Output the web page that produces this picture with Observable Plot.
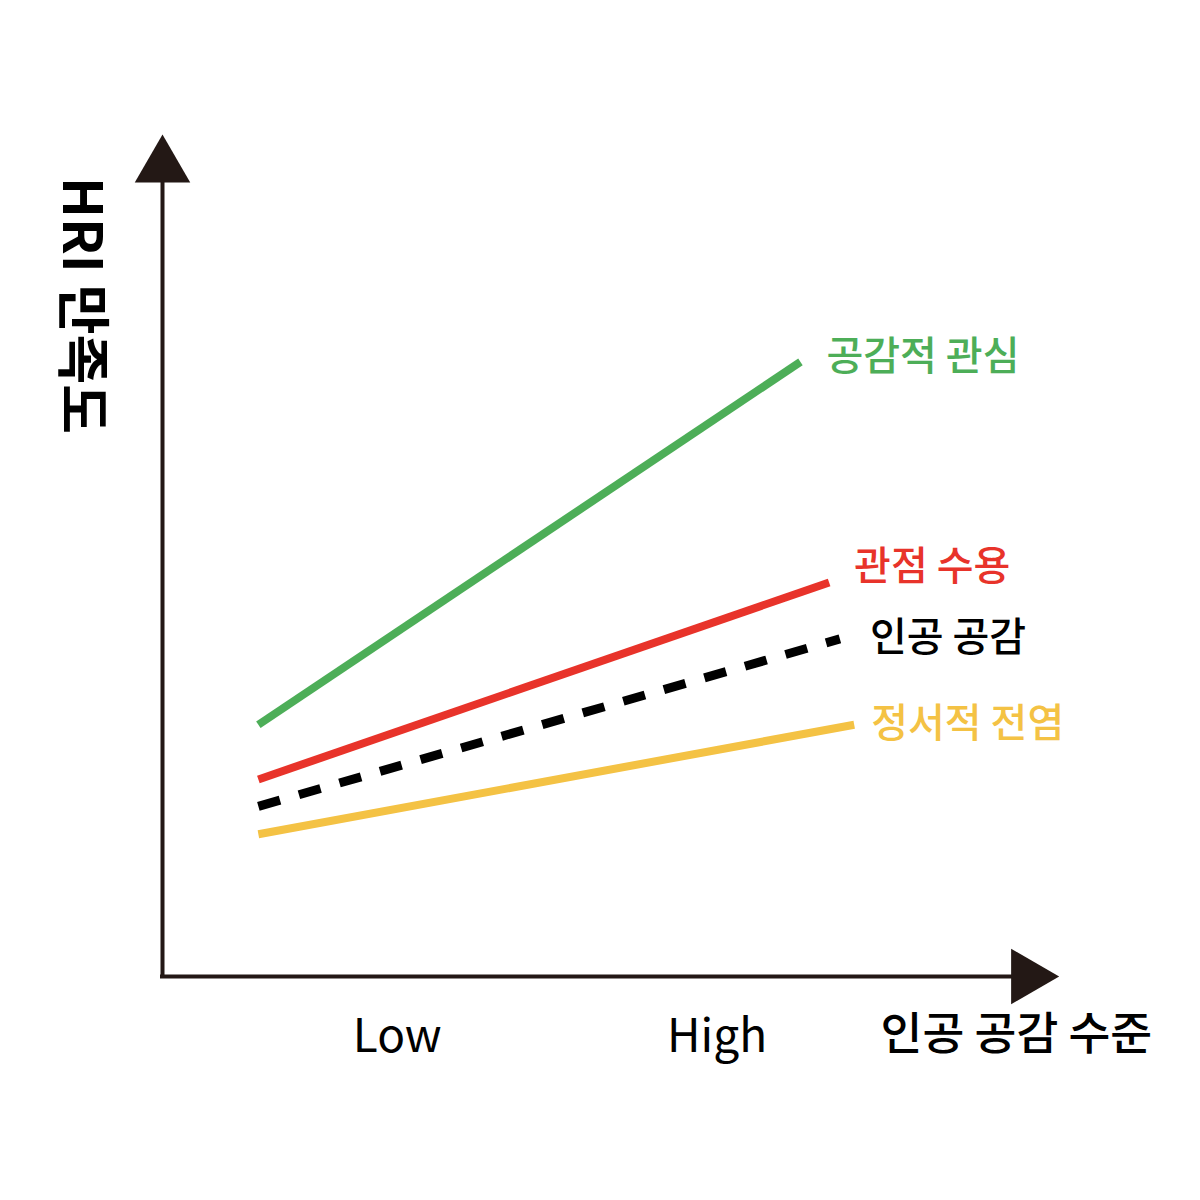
<!DOCTYPE html>
<html><head><meta charset="utf-8">
<script src="https://cdn.jsdelivr.net/npm/d3@7"></script>
<script src="https://cdn.jsdelivr.net/npm/@observablehq/plot@0.6"></script>
<style>body{margin:0;background:#fff} #chart svg{display:block}</style>
</head><body><div id="chart"></div>
<script>
// ---- data (x and y on a 0–100 scale) ----
const series = ["공감적 관심", "관점 수용", "인공 공감", "정서적 전염"];
const xStart = [10.7, 10.7, 10.7, 10.7];
const xEnd   = [71.2, 74.4, 75.6, 77.2];
const yStart = [29.9, 23.4, 20.2, 16.9];
const yEnd   = [73.0, 46.8, 40.1, 29.9];
const xTickValues = [26.2, 61.9];
const xTickLabels = ["Low", "High"];
const xTitle = "인공 공감 수준";
const yTitle = "HRI 만족도";

// ---- styles ----
const colors = ["#4DAE58", "#E8332A", "#000000", "#F4C244"];
const dashes = [null, null, "22.5,19.7", null];
const widths = [8, 8, 9, 8];
const labelDx = [26, 25, 30, 17];
const labelDy = [-5, -15, -1, -1];
const axisColor = "#231815";
const font = "'Noto Sans CJK KR', 'Noto Sans', sans-serif";

const lineMarks = series.map((s, i) => Plot.line(
  [{x: xStart[i], y: yStart[i]}, {x: xEnd[i], y: yEnd[i]}],
  {x: "x", y: "y", stroke: colors[i], strokeWidth: widths[i],
   strokeDasharray: dashes[i] ?? undefined, strokeLinecap: "butt"}
));
const labelMarks = series.map((s, i) => Plot.text(
  [{x: xEnd[i], y: yEnd[i], t: s}],
  {x: "x", y: "y", text: "t", textAnchor: "start", lineAnchor: "middle",
   dx: labelDx[i], dy: labelDy[i], fill: colors[i], fontSize: 40, fontWeight: 500}
));

const chart = Plot.plot({
  width: 1200, height: 1200,
  marginLeft: 162, marginRight: 142, marginTop: 134, marginBottom: 224,
  x: {domain: [0, 100]},
  y: {domain: [0, 100], axis: null},
  style: {background: "#fff", fontFamily: font, color: "#000"},
  marks: [
    Plot.ruleX([0], {y1: 0, y2: 95, stroke: axisColor, strokeWidth: 4, strokeLinecap: "square"}),
    Plot.ruleY([0], {x1: 0, x2: 95, stroke: axisColor, strokeWidth: 4, strokeLinecap: "square"}),
    Plot.dot([{x: 0, y: 96.2}], {x: "x", y: "y", symbol: "triangle", r: 20.6, fill: axisColor, stroke: "none"}),
    Plot.dot([{x: 96.5, y: 0}], {x: "x", y: "y", symbol: "triangle", r: 20.6, rotate: 90, fill: axisColor, stroke: "none"}),
    Plot.axisX({ticks: xTickValues, tickFormat: d => xTickLabels[xTickValues.indexOf(d)],
      tickSize: 0, tickPadding: 43, fontSize: 46, label: null}),
    ...lineMarks,
    ...labelMarks,
    Plot.text([{x: 95.3, y: -7.0, t: xTitle}], {x: "x", y: "y", text: "t", fontSize: 45.5, fontWeight: 500, lineAnchor: "middle", fill: "#000"}),
    Plot.text([{x: -9.15, y: 79.7, t: yTitle}], {x: "x", y: "y", text: "t", fontSize: 54, fontWeight: 700, rotate: 90, lineAnchor: "middle", fill: "#000"})
  ]
});
document.getElementById("chart").append(chart);
</script>
</body></html>
